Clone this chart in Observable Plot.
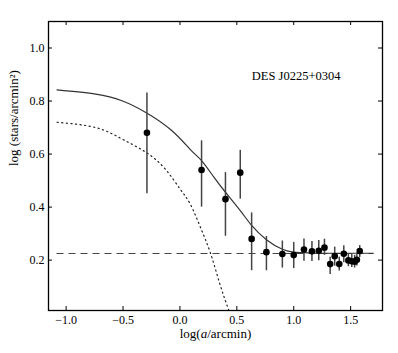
<!DOCTYPE html>
<html>
<head>
<meta charset="utf-8">
<script src="https://cdn.jsdelivr.net/npm/d3@7"></script>
<script src="https://cdn.jsdelivr.net/npm/@observablehq/plot@0.6"></script>
<style>
  html, body { margin: 0; padding: 0; background: #fff; }
  svg text { font-family: 'Liberation Serif', 'Times New Roman', serif !important; }
</style>
</head>
<body>
<div id="chart"></div>
<script>
// ---- data ----
const ptX  = [-0.29, 0.19, 0.40, 0.53, 0.63, 0.76, 0.90, 1.00, 1.09, 1.16, 1.22, 1.27, 1.32, 1.36, 1.40, 1.44, 1.48, 1.51, 1.535, 1.555, 1.58];
const ptY  = [0.68, 0.54, 0.43, 0.53, 0.28, 0.23, 0.223, 0.219, 0.24, 0.233, 0.235, 0.247, 0.185, 0.215, 0.185, 0.224, 0.199, 0.196, 0.194, 0.201, 0.234];
const ptLo = [0.45, 0.40, 0.29, 0.43, 0.16, 0.16, 0.17, 0.168, 0.196, 0.195, 0.198, 0.218, 0.146, 0.177, 0.159, 0.19, 0.175, 0.172, 0.17, 0.178, 0.21];
const ptHi = [0.83, 0.65, 0.53, 0.614, 0.378, 0.289, 0.272, 0.267, 0.28, 0.27, 0.274, 0.279, 0.211, 0.249, 0.211, 0.254, 0.225, 0.222, 0.218, 0.226, 0.255];

const fitX = [-1.08, -0.74, -0.51, -0.30, -0.07, 0.10, 0.19, 0.30, 0.40, 0.53, 0.63, 0.76, 0.90, 1.00, 1.10, 1.30, 1.50, 1.70];
const fitY = [0.842, 0.826, 0.801, 0.757, 0.688, 0.613, 0.575, 0.512, 0.456, 0.387, 0.331, 0.277, 0.241, 0.230, 0.228, 0.226, 0.226, 0.226];

const profX = [-1.08, -0.74, -0.51, -0.30, -0.13, 0.00, 0.09, 0.18, 0.27, 0.35, 0.43];
const profY = [0.72, 0.70, 0.657, 0.607, 0.544, 0.469, 0.412, 0.324, 0.224, 0.111, 0.01];

const bgLevel = 0.225;
const bgRange = [-1.08, 1.70];

const xTicks = [-1.0, -0.5, 0.0, 0.5, 1.0, 1.5];
const yTicks = [0.2, 0.4, 0.6, 0.8, 1.0];
const xDomain = [-1.155, 1.78];
const yDomain = [0.01, 1.10];

const labelText = "DES J0225+0304";
const xLabel = "log(a/arcmin)";
const yLabel = "log (stars/arcmin²)";

// ---- tables built from arrays ----
const points = ptX.map((x, i) => ({x, y: ptY[i], lo: ptLo[i], hi: ptHi[i]}));
const fit = fitX.map((x, i) => ({x, y: fitY[i]}));
const prof = profX.map((x, i) => ({x, y: profY[i]}));

const W = 398, H = 353;
const mL = 48, mR = 16, mT = 21, mB = 43;
const innerH = H - mT - mB, innerW = W - mL - mR;
const tl = 4;
const fmt = d3.format(".1f");
const serif = "'Liberation Serif', 'Times New Roman', serif";

const svg = Plot.plot({
  width: W, height: H,
  marginLeft: mL, marginRight: mR, marginTop: mT, marginBottom: mB,
  style: `font-family: ${serif}; font-size: 12px; color: #000; background: #fff;`,
  x: {domain: xDomain, label: null},
  y: {domain: yDomain, label: null},
  marks: [
    Plot.ruleY([bgLevel], {x1: bgRange[0], x2: bgRange[1], stroke: "#444", strokeWidth: 1.1, strokeDasharray: "7,5"}),
    Plot.line(prof, {x: "x", y: "y", curve: "natural", stroke: "#222", strokeWidth: 1.2, strokeDasharray: "1.2,3.4", clip: true}),
    Plot.line(fit, {x: "x", y: "y", curve: "natural", stroke: "#333", strokeWidth: 1.2}),
    Plot.ruleX(points, {x: "x", y1: "lo", y2: "hi", stroke: "#444", strokeWidth: 1.5}),
    Plot.dot(points, {x: "x", y: "y", r: 3.3, fill: "#000", stroke: "none"}),
    // inward ticks on all four sides
    Plot.tickX(xTicks, {x: d => d, insetTop: innerH - tl, stroke: "#000"}),
    Plot.tickX(xTicks, {x: d => d, insetBottom: innerH - tl, stroke: "#000"}),
    Plot.tickY(yTicks, {y: d => d, insetRight: innerW - tl, stroke: "#000"}),
    Plot.tickY(yTicks, {y: d => d, insetLeft: innerW - tl, stroke: "#000"}),
    Plot.axisX({ticks: xTicks, tickSize: 0, tickPadding: 5, tickFormat: fmt, fontSize: 12, label: null}),
    Plot.axisY({ticks: yTicks, tickSize: 0, tickPadding: 4, tickFormat: fmt, fontSize: 12, label: null}),
    Plot.frame({stroke: "#000", strokeWidth: 1.3}),
    Plot.text([labelText], {frameAnchor: "top-right", dx: -42, dy: 50, text: d => d, fontSize: 12.5, textAnchor: "end"}),
    Plot.text([xLabel], {frameAnchor: "bottom", dy: 27, text: d => d, fontSize: 13, className: "xlab"}),
    Plot.text([yLabel], {frameAnchor: "left", dx: -35, rotate: -90, text: d => d, fontSize: 13})
  ]
});

// italic "a" in the x label
d3.select(svg).selectAll(".xlab text").each(function() {
  const t = d3.select(this);
  t.text(null);
  t.append("tspan").text("log(");
  t.append("tspan").attr("font-style", "italic").text("a");
  t.append("tspan").text("/arcmin)");
});
d3.select(svg).selectAll("text").attr("font-family", serif);

document.getElementById("chart").appendChild(svg);
</script>
</body>
</html>
